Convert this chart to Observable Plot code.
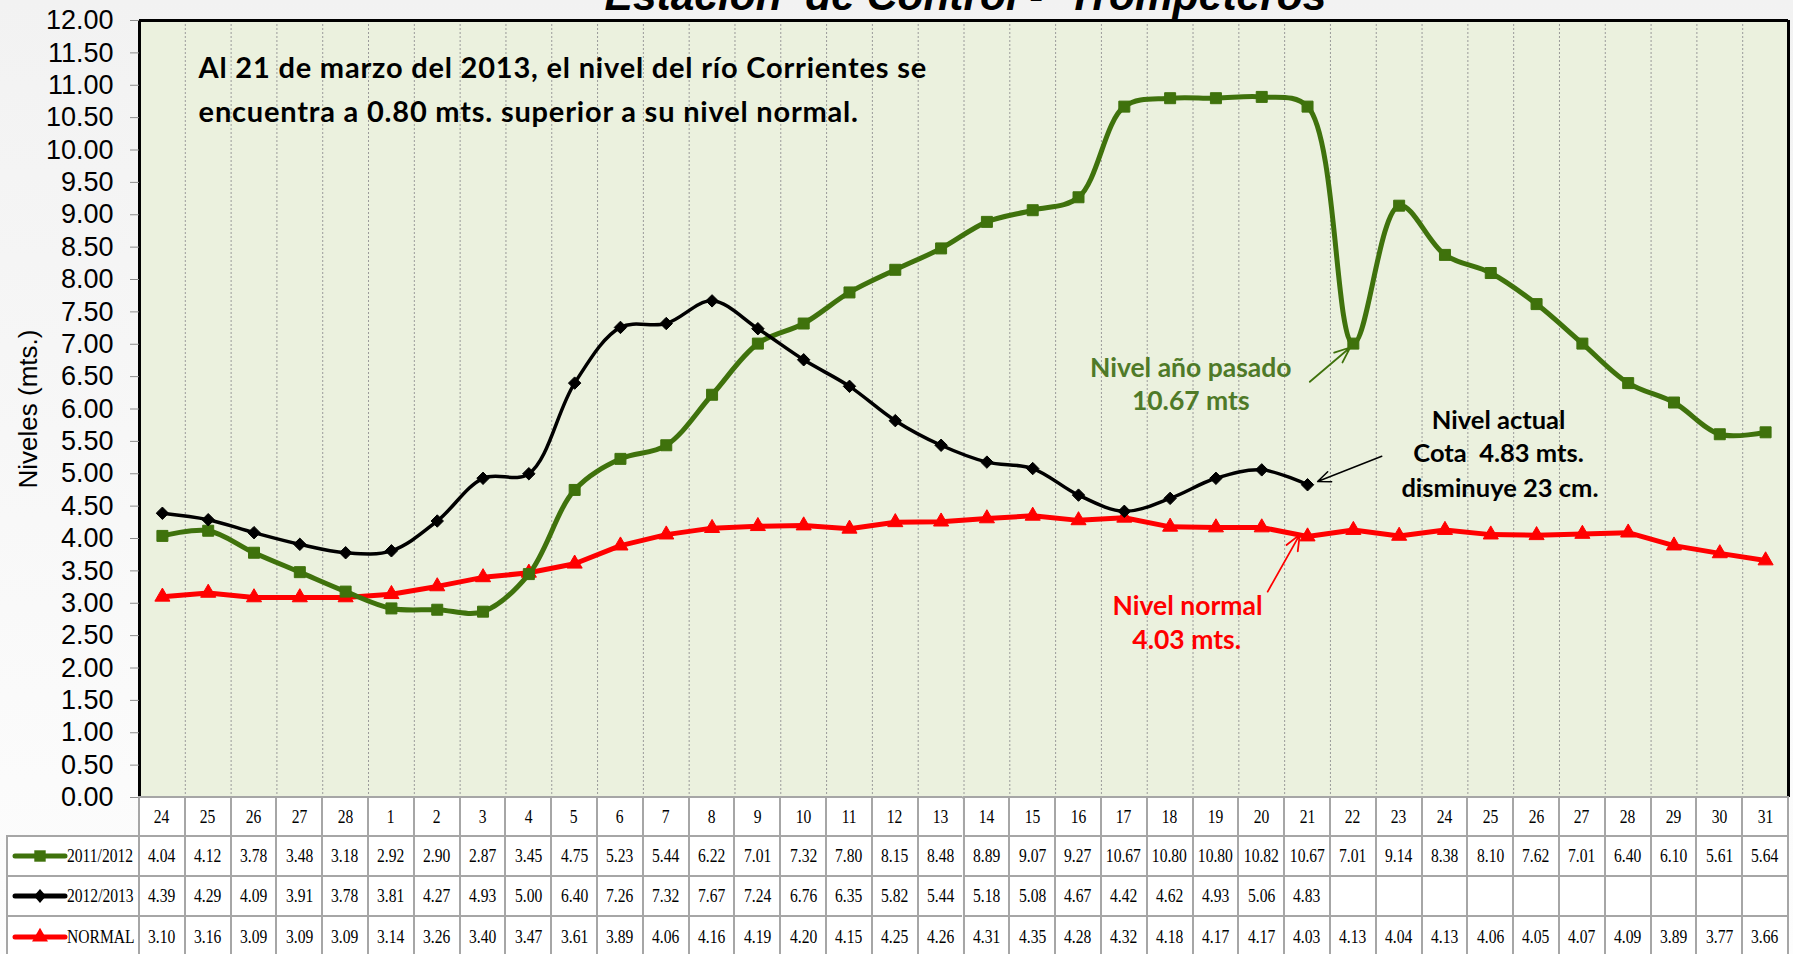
<!DOCTYPE html>
<html><head><meta charset="utf-8">
<script src="https://cdn.jsdelivr.net/npm/d3@7"></script>
<script src="https://cdn.jsdelivr.net/npm/@observablehq/plot@0.6"></script>
<style>
html,body{margin:0;padding:0;}
body{width:1793px;height:954px;overflow:hidden;background:linear-gradient(#f2f2f2,#fdfdfd);}
#wrap{position:relative;width:1793px;height:954px;overflow:hidden;}
#wrap svg{position:absolute;left:0;top:0;overflow:visible;}
#wrap svg text{white-space:pre;}
.cell{position:absolute;box-sizing:border-box;background:#fff;border-left:2px solid #a6a6a6;border-top:2px solid #a6a6a6;display:flex;align-items:center;justify-content:center;font-family:"Liberation Serif","Times New Roman",serif;font-size:19px;color:#000;}
.cell span{display:inline-block;transform:scaleX(0.82);white-space:nowrap;}
.leg{justify-content:flex-start;}
.leg span{transform-origin:left center;}
</style></head>
<body><div id="wrap"></div>
<script>
// ---- data ----
const days = [24,25,26,27,28,1,2,3,4,5,6,7,8,9,10,11,12,13,14,15,16,17,18,19,20,21,22,23,24,25,26,27,28,29,30,31];
const nivel20112012 = [4.04,4.12,3.78,3.48,3.18,2.92,2.90,2.87,3.45,4.75,5.23,5.44,6.22,7.01,7.32,7.80,8.15,8.48,8.89,9.07,9.27,10.67,10.80,10.80,10.82,10.67,7.01,9.14,8.38,8.10,7.62,7.01,6.40,6.10,5.61,5.64];
const nivel20122013 = [4.39,4.29,4.09,3.91,3.78,3.81,4.27,4.93,5.00,6.40,7.26,7.32,7.67,7.24,6.76,6.35,5.82,5.44,5.18,5.08,4.67,4.42,4.62,4.93,5.06,4.83];
const nivelNormal = [3.10,3.16,3.09,3.09,3.09,3.14,3.26,3.40,3.47,3.61,3.89,4.06,4.16,4.19,4.20,4.15,4.25,4.26,4.31,4.35,4.28,4.32,4.18,4.17,4.17,4.03,4.13,4.04,4.13,4.06,4.05,4.07,4.09,3.89,3.77,3.66];
const seriesNames = ["2011/2012","2012/2013","NORMAL"];
const yTicks = [0,0.5,1,1.5,2,2.5,3,3.5,4,4.5,5,5.5,6,6.5,7,7.5,8,8.5,9,9.5,10,10.5,11,11.5,12];
const title = "Estación  de Control -  Trompeteros";
const yLabel = "Niveles (mts.)";
const noteMain = ["Al 21 de marzo del 2013, el nivel del río Corrientes se","encuentra a 0.80 mts. superior a su nivel normal."];
const notePasado = ["Nivel año pasado","10.67 mts"];
const noteActual = ["Nivel actual","Cota  4.83 mts.","disminuye 23 cm."];
const noteNormal = ["Nivel normal","4.03 mts."];

const GREEN = "#3f720c", GREENTXT = "#4f7a28", RED = "#ff0000", BLACK = "#000000";
const idx = days.map((d, i) => i);
const series = [nivel20112012, nivel20122013, nivelNormal];
const pts = (arr) => arr.map((v, i) => ({i, v}));
const bounds = idx.slice(0, -1).map(i => i + 0.5);
const NOTEFONT = "Lato, 'Open Sans', sans-serif";

const chart = Plot.plot({
  width: 1793, height: 798,
  marginLeft: 139, marginRight: 5, marginTop: 20, marginBottom: 1,
  style: {fontFamily: "'Liberation Sans', Arial, sans-serif", background: "transparent", overflow: "visible"},
  x: {domain: [-0.5, idx.length - 0.5], axis: null},
  y: {domain: [0, 12], axis: null},
  marks: [
    Plot.frame({fill: "#ebf1de"}),
    Plot.ruleX(bounds, {stroke: "#9a9a9a", strokeWidth: 1, strokeDasharray: "2,2"}),
    Plot.ruleY([0], {stroke: "#a6a6a6", strokeWidth: 2}),
    Plot.ruleY([12], {stroke: "black", strokeWidth: 3}),
    Plot.ruleX([-0.5, idx.length - 0.5], {stroke: "black", strokeWidth: 3}),
    Plot.axisY(yTicks, {anchor: "left", tickSize: 9, tickPadding: 17, fontSize: 27, color: "black", stroke: "#8c8c8c", tickFormat: d => d.toFixed(2), label: null}),
    Plot.text([yLabel], {frameAnchor: "left", textAnchor: "middle", dx: -111, rotate: -90, fontSize: 26, fill: "black"}),
    // lines
    Plot.line(pts(nivelNormal), {x: "i", y: "v", stroke: RED, strokeWidth: 5}),
    Plot.line(pts(nivel20112012), {x: "i", y: "v", stroke: GREEN, strokeWidth: 5, curve: "catmull-rom"}),
    Plot.line(pts(nivel20122013), {x: "i", y: "v", stroke: BLACK, strokeWidth: 3.5, curve: "catmull-rom"}),
    Plot.dot(pts(nivelNormal), {x: "i", y: "v", symbol: "triangle", r: 5.6, fill: RED, stroke: RED, strokeWidth: 1}),
    Plot.dot(pts(nivel20112012), {x: "i", y: "v", symbol: "square", r: 6.2, fill: GREEN, stroke: GREEN, strokeWidth: 1}),
    Plot.dot(pts(nivel20122013), {x: "i", y: "v", symbol: "diamond2", r: 5.6, fill: BLACK, stroke: BLACK, strokeWidth: 1}),
    // annotations
    Plot.text(noteMain, {x: [0.79, 0.79], y: [11.25, 10.58], textAnchor: "start", fontSize: 29, fontWeight: "bold", fontFamily: NOTEFONT, fill: "black"}),
    Plot.text(notePasado, {x: [22.45, 22.45], y: [6.63, 6.12], fontSize: 26.5, fontWeight: "bold", fontFamily: NOTEFONT, fill: GREENTXT}),
    Plot.text(noteActual, {x: [29.17, 29.17, 29.2], y: [5.82, 5.30, 4.77], fontSize: 25.5, fontWeight: "bold", fontFamily: NOTEFONT, fill: "black"}),
    Plot.text(noteNormal, {x: [22.38, 22.36], y: [2.95, 2.42], fontSize: 26.5, fontWeight: "bold", fontFamily: NOTEFONT, fill: RED}),
    Plot.arrow([0], {x1: 25.05, y1: 6.42, x2: 25.93, y2: 6.95, stroke: GREEN, strokeWidth: 1.8, headLength: 14, headAngle: 45}),
    Plot.arrow([0], {x1: 26.62, y1: 5.27, x2: 25.22, y2: 4.88, stroke: BLACK, strokeWidth: 1.5, headLength: 14, headAngle: 45}),
    Plot.arrow([0], {x1: 24.13, y1: 3.18, x2: 24.83, y2: 4.06, stroke: RED, strokeWidth: 1.8, headLength: 14, headAngle: 45})
  ]
});

const wrap = document.getElementById("wrap");
wrap.append(chart);

// widen the headline note slightly (Calibri-like spacing)
d3.select(chart).selectAll("text").filter(function() { return noteMain.includes(this.textContent); })
  .style("letter-spacing", "0.8px");

// title (top half clipped by the page edge, as in the original)
const xs = chart.scale("x");
const ys = chart.scale("y");
d3.select(chart).append("text")
  .attr("x", (xs.apply(-0.5) + xs.apply(idx.length - 0.5)) / 2 + 2)
  .attr("y", ys.apply(12) - 10)
  .attr("text-anchor", "middle")
  .attr("font-size", 42.5).attr("font-weight", "bold").attr("font-style", "italic")
  .attr("fill", "black")
  .text(title);

// data table under the chart, aligned on the chart's x scale
const top0 = ys.apply(0);
const rowTops = [top0, top0 + 39, top0 + 79, top0 + 119];
const rowH = [39, 40, 40, 42];
function cell(left, top, w, h, txt, cls, last) {
  const d = document.createElement("div");
  d.className = "cell" + (cls ? " " + cls : "");
  Object.assign(d.style, {left: left + "px", top: top + "px", width: w + "px", height: h + "px"});
  if (last) d.style.borderRight = "2px solid #a6a6a6";
  if (txt !== null) { const s = document.createElement("span"); s.textContent = txt; d.append(s); }
  wrap.append(d);
  return d;
}
const rowsData = [days.map(String), ...series.map(a => idx.map(i => a[i] === undefined ? "" : a[i].toFixed(2)))];
rowsData.forEach((row, r) => {
  idx.forEach(i => {
    const l = xs.apply(i - 0.5) - 1, rr = xs.apply(i + 0.5) - 1;
    cell(l, rowTops[r] - 1, rr - l + (i === idx.length - 1 ? 2 : 0), rowH[r], row[i], null, i === idx.length - 1);
  });
});
// legend cells
const legLeft = 6;
const symbols = [d3.symbolSquare, null, d3.symbolTriangle];
const colors = [GREEN, BLACK, RED];
seriesNames.forEach((name, k) => {
  const r = k + 1;
  const c = cell(legLeft, rowTops[r] - 1, xs.apply(-0.5) - 1 - legLeft, rowH[r], null, "leg", false);
  const svg = d3.create("svg").attr("width", 58).attr("height", 20).style("position", "static").style("flex", "none").style("margin-left", "3px");
  svg.append("line").attr("x1", 4).attr("x2", 54).attr("y1", 10).attr("y2", 10).attr("stroke", colors[k]).attr("stroke-width", 5).attr("stroke-linecap", "round");
  if (k === 1) svg.append("path").attr("d", "M29,3L35,10L29,17L23,10Z").attr("fill", colors[k]);
  else svg.append("path").attr("transform", "translate(29,10)").attr("d", d3.symbol(symbols[k], k === 0 ? 130 : 110)()).attr("fill", colors[k]);
  c.append(svg.node());
  const s = document.createElement("span"); s.textContent = name; s.style.marginLeft = "-2px"; c.append(s);
});
</script>
</body></html>
